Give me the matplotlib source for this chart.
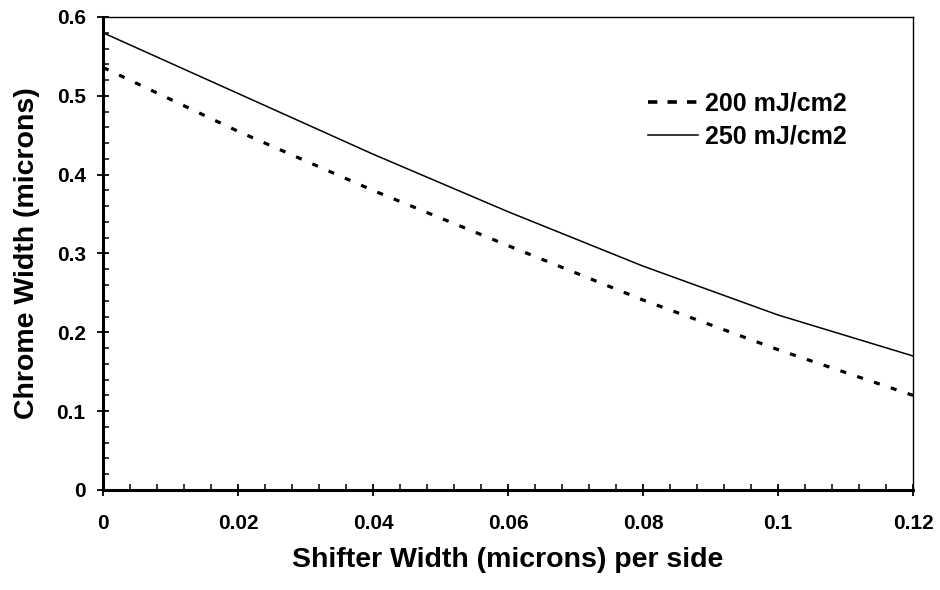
import numpy as np
import matplotlib.pyplot as plt
from matplotlib.ticker import MultipleLocator
from matplotlib.lines import Line2D

plt.rcParams['font.family'] = 'Liberation Sans'
plt.rcParams['font.weight'] = 'bold'

# shifter width per side (microns)
shifter = [0, 0.02, 0.04, 0.06, 0.08, 0.10, 0.12]
# chrome width (microns) for the two doses
chrome_200 = [0.536, 0.455, 0.380, 0.310, 0.241, 0.178, 0.120]
chrome_250 = [0.580, 0.503, 0.426, 0.353, 0.284, 0.222, 0.170]

xtick_vals = [0, 0.02, 0.04, 0.06, 0.08, 0.10, 0.12]
xtick_labels = ['0', '0.02', '0.04', '0.06', '0.08', '0.1', '0.12']
ytick_vals = [0, 0.1, 0.2, 0.3, 0.4, 0.5, 0.6]
ytick_labels = ['0', '0.1', '0.2', '0.3', '0.4', '0.5', '0.6']

fig = plt.figure(figsize=(9.4, 5.9), dpi=100)
ax = fig.add_axes([0.1096, 0.1695, 0.8617, 0.8017])

ax.plot(shifter, chrome_200, color='black', lw=2.3, dashes=(1.9, 3.65))
ax.plot(shifter, chrome_250, color='black', lw=1.1)

ax.set_xlim(0, 0.12)
ax.set_ylim(0, 0.6)
ax.set_xticks(xtick_vals)
ax.set_xticklabels(xtick_labels)
ax.set_yticks(ytick_vals)
ax.set_yticklabels(ytick_labels)
ax.xaxis.set_minor_locator(MultipleLocator(0.004))
ax.yaxis.set_minor_locator(MultipleLocator(0.02))

ax.tick_params(which='major', direction='inout', length=9, width=1.3, labelsize=15, pad=8)
ax.tick_params(which='minor', direction='in', length=4, width=1.1)
ax.tick_params(axis='x', which='major', pad=13)

ax.spines['left'].set_linewidth(2.2)
ax.spines['bottom'].set_linewidth(2.2)
ax.spines['top'].set_linewidth(1.0)
ax.spines['right'].set_linewidth(1.0)

ax.set_xlabel('Shifter Width (microns) per side', fontsize=20.5, fontweight='bold', labelpad=10)
ax.set_ylabel('Chrome Width (microns)', fontsize=20.5, fontweight='bold', labelpad=12)

# legend handles drawn a bit coarser, like the original
handles = [Line2D([], [], color='black', lw=2.6, dashes=(2.6, 2.8)),
           Line2D([], [], color='black', lw=1.1)]
leg = ax.legend(handles, ['200 mJ/cm2', '250 mJ/cm2'], loc='upper left',
                bbox_to_anchor=(0.645, 0.89), frameon=False,
                fontsize=18, handlelength=2.0, handletextpad=0.3, labelspacing=0.35)
for t in leg.get_texts():
    t.set_fontweight('bold')

plt.savefig('out.png', dpi=100)
